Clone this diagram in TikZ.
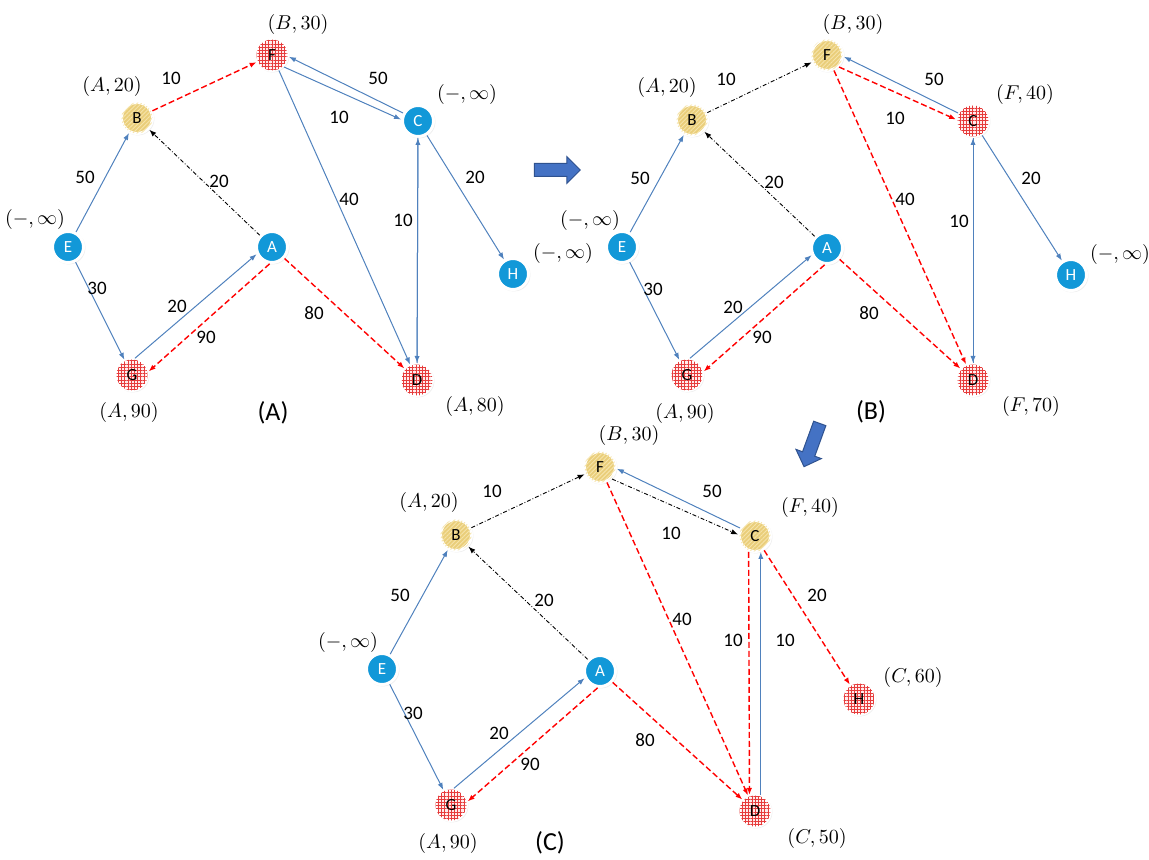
\documentclass[tikz,border=0pt]{standalone}
\usepackage{fontspec}
\setsansfont{Carlito}
\usepackage{tikz}
\usetikzlibrary{arrows.meta,shapes.arrows,shadows,patterns.meta}
\definecolor{nodeC}{RGB}{18,152,216}
\definecolor{goldC}{RGB}{234,206,122}
\definecolor{goldL}{RGB}{246,228,170}
\definecolor{gridC}{RGB}{230,60,60}
\definecolor{edgeC}{RGB}{79,129,189}
\definecolor{arrC}{RGB}{68,114,196}
\definecolor{arrD}{RGB}{47,82,143}

\tikzset{
  vtx/.style={circle,minimum size=15.5pt,inner sep=0pt,draw=white,line width=1.5pt,
    font=\sffamily\fontsize{8.5}{8.5}\selectfont,
    circular drop shadow={shadow xshift=0.3pt,shadow yshift=-0.3pt,shadow scale=1.1,opacity=0.25}},
  bnode/.style={vtx,fill=nodeC,text=white},
  ynode/.style={vtx,fill=goldC,postaction={pattern={Lines[angle=45,distance=1.5pt,line width=0.45pt]},pattern color=goldL}},
  rnode/.style={vtx,fill=red!8,postaction={pattern={Hatch[angle=0,distance=1.6pt,line width=0.4pt]},pattern color=gridC}},
  bedge/.style={draw=edgeC,line width=0.5pt,-{Latex[length=3.5pt,width=2.6pt]}},
  redge/.style={draw=red,line width=0.7pt,dash pattern=on 3pt off 1.5pt,-{Latex[length=3.5pt,width=2.6pt]}},
  kedge/.style={draw=black,line width=0.45pt,dash pattern=on 2pt off 1pt on 0.4pt off 1pt,-{Latex[length=3.5pt,width=2.6pt]}},
  wt/.style={font=\sffamily\fontsize{9.5}{10}\selectfont,inner sep=0pt},
  ml/.style={font=\fontsize{10}{11}\selectfont,inner sep=0pt},
  figcap/.style={font=\sffamily\fontsize{13}{14}\selectfont,inner sep=0pt},
  bigarr/.style={single arrow,fill=arrC,draw=arrD,line width=0.5pt,inner sep=3pt,
    minimum height=23pt,single arrow head extend=3.5pt}
}

\begin{document}
\begin{tikzpicture}[x=0.5pt,y=-0.5pt]
\useasboundingbox (0,0) rectangle (1149,860);

% graph (A)
\foreach \nm/\s/\x/\y in {E/bnode/68/247, B/ynode/137/118, F/rnode/272/55, C/bnode/418/121,
    A/bnode/272/247, H/bnode/513/274, G/rnode/132/375, D/rnode/417/380}
  \node[\s] (a\nm) at (\x,\y) {\nm};
\draw[bedge] (aE) -- (aB);
\draw[bedge] (aE) -- (aG);
\draw[bedge] (aG.80) -- (aA.205);
\draw[redge] (aA.262) -- (aG.12);
\draw[kedge] (aA) -- (aB);
\draw[redge] (aA) -- (aD);
\draw[redge] (aB) -- (aF);
\draw[bedge] (aC.152) -- (aF.-6);
\draw[bedge] (aF.-45) -- (aC.175);
\draw[bedge] (aF) -- (aD);
\draw[bedge] (aC) -- (aD);
\draw[bedge] (aD) -- (aC);
\draw[bedge] (aC) -- (aH);
\foreach \w/\x/\y [count=\i] in {10/171/78, 50/378/78, 10/339/117, 20/475/177, 40/349/199,
    10/403/220, 50/85/177, 20/219/181, 30/97/288, 20/177/306, 90/206/337, 80/314/313}
  \node[wt] (aw\i) at (\x,\y) {\w};
\foreach \p/\q/\x/\y [count=\i] in {B/30/298/25, A/20/112/87, -/\infty/467/95,
    -/\infty/35/220, A/90/129/412, A/80/475/406}
  \node[ml] (al\i) at (\x,\y) {$(\p,\q)$};
\node[figcap] (acap) at (273,413) {(A)};

% graph (B)
\foreach \nm/\s/\x/\y in {E/bnode/622/247, B/ynode/692/120, F/ynode/827/55, C/rnode/973/121,
    A/bnode/827/248, H/bnode/1071/275, G/rnode/687/375, D/rnode/973/380}
  \node[\s] (b\nm) at (\x,\y) {\nm};
\draw[bedge] (bE) -- (bB);
\draw[bedge] (bE) -- (bG);
\draw[bedge] (bG.80) -- (bA.205);
\draw[redge] (bA.262) -- (bG.12);
\draw[kedge] (bA) -- (bB);
\draw[redge] (bA) -- (bD);
\draw[kedge] (bB) -- (bF);
\draw[bedge] (bC.152) -- (bF.-6);
\draw[redge] (bF.-45) -- (bC.175);
\draw[redge] (bF) -- (bD);
\draw[bedge] (bC) -- (bD);
\draw[bedge] (bD) -- (bC);
\draw[bedge] (bC) -- (bH);
\foreach \w/\x/\y [count=\i] in {10/726/79, 50/934/79, 10/895/118, 20/1031/178, 40/905/199,
    10/959/221, 50/640/178, 20/774/182, 30/653/289, 20/733/307, 90/762/337, 80/869/313}
  \node[wt] (bw\i) at (\x,\y) {\w};
\foreach \p/\q/\x/\y [count=\i] in {B/30/853/25, A/20/667/88, F/40/1025/95, -/\infty/590/221,
    -/\infty/563/254, -/\infty/1120/255, A/90/685/413, F/70/1031/407}
  \node[ml] (bl\i) at (\x,\y) {$(\p,\q)$};
\node[figcap] (bcap) at (871,412) {(B)};

% graph (C)
\foreach \nm/\s/\x/\y in {E/bnode/382/669, B/ynode/456/535, F/ynode/600/467, C/ynode/755/536,
    A/bnode/600/671, H/rnode/859/699, G/rnode/451/805, D/rnode/755/811}
  \node[\s] (c\nm) at (\x,\y) {\nm};
\draw[bedge] (cE) -- (cB);
\draw[bedge] (cE) -- (cG);
\draw[bedge] (cG.80) -- (cA.205);
\draw[redge] (cA.262) -- (cG.12);
\draw[kedge] (cA) -- (cB);
\draw[redge] (cA) -- (cD);
\draw[kedge] (cB) -- (cF);
\draw[bedge] (cC.152) -- (cF.-6);
\draw[kedge] (cF.-45) -- (cC.175);
\draw[redge] (cF) -- (cD);
\draw[redge] (cC.248) -- (cD.109);
\draw[bedge] (cD.70) -- (cC.290);
\draw[redge] (cC) -- (cH);
\foreach \w/\x/\y [count=\i] in {10/492/491, 50/712/491, 10/671/533, 20/817/595, 40/682/619,
    10/733/640, 10/785/640, 50/400/595, 20/544/600, 30/413/713, 20/499/733, 90/530/764, 80/645/740}
  \node[wt] (cw\i) at (\x,\y) {\w};
\foreach \p/\q/\x/\y [count=\i] in {B/30/629/435, A/20/429/502, F/40/810/507, -/\infty/348/642,
    C/60/913/677, A/90/448/843, C/50/817/838}
  \node[ml] (cl\i) at (\x,\y) {$(\p,\q)$};
\node[figcap] (ccap) at (550,843) {(C)};

% step arrows
\node[bigarr] (stepR) at (554,170) {};
\node[bigarr,rotate=250] (stepD) at (813,442) {};
\end{tikzpicture}
\end{document}
